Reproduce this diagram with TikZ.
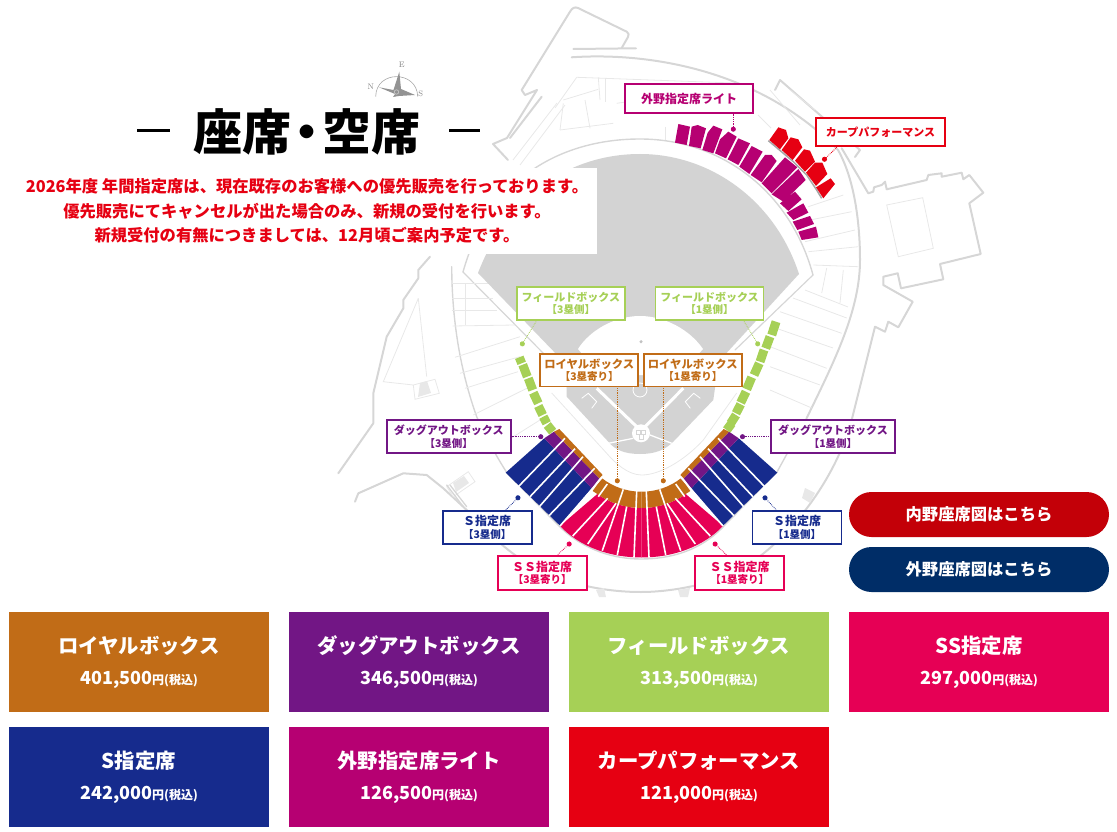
\documentclass[tikz,border=0pt]{standalone}
\usepackage{fontspec}
\usetikzlibrary{arrows.meta}
\newfontfamily\jpfont{Noto Sans CJK JP}
\newcommand\jpsize[2]{\jpfont\bfseries\fontsize{#1}{#2}\selectfont}

\definecolor{cRoyal}{HTML}{C16C17}
\definecolor{cDug}{HTML}{721685}
\definecolor{cField}{HTML}{A6D056}
\definecolor{cSS}{HTML}{E60055}
\definecolor{cS}{HTML}{162B8D}
\definecolor{cOut}{HTML}{B60072}
\definecolor{cCarp}{HTML}{E60012}
\definecolor{cBtnRed}{HTML}{C30008}
\definecolor{cBtnNavy}{HTML}{002D67}
\definecolor{mapThick}{HTML}{D6D6D6}
\definecolor{mapThin}{HTML}{E8E8E8}
\definecolor{mapField}{HTML}{D3D3D3}

\tikzset{
  mapline/.style={draw=mapThick, line width=2pt, line join=round, line cap=round},
  mapthin/.style={draw=mapThin, line width=0.8pt},
  seatgap/.style={draw=white, line width=1.6pt},
  seatlabel/.style={draw=#1, text=#1, fill=white, line width=1.8pt, inner sep=0pt, align=center,
    font=\jpsize{11}{12.2}},
  leader/.style={draw=#1, line width=0.8pt, densely dotted, {Circle[length=5pt,#1]}-},
  pricecard/.style={fill=#1, text=white, inner sep=0pt, minimum width=260pt, minimum height=100pt,
    align=center, font=\jpsize{20.4}{32}},
  bigbutton/.style={fill=#1, text=white, rounded corners=22.5pt, minimum width=260pt, minimum height=45pt,
    inner sep=0pt, font=\jpsize{16.3}{18}}
}
\newcommand\subtext[1]{{\fontsize{10.5}{12.2}\selectfont #1}}

\begin{document}
\begin{tikzpicture}[x=1pt, y=-1pt, line cap=butt]

  %% ════ ground outlines ════
  \draw[mapline] (521.7,90) -- (570,11.7) .. controls (572,8) and (575,6.5) .. (578,8) -- (626.7,31.7)
    .. controls (629,33) and (629,35) .. (628,37) -- (621.7,48);
  \draw[mapline] (573.3,49) -- (636,48.3);
  \draw[mapline] (521.7,90) -- (525,95) -- (537,90) -- (507,138) -- (493,144) -- (508,160);
  \draw[mapline] (541.7,96.7) -- (510,138);
  \draw[mapline] (571.7,57.3) .. controls (650,52) and (760,70) .. (838,150)
    .. controls (855,180) and (860,225) .. (860,260) .. controls (860,310) and (835,360) .. (806.7,418);
  \draw[mapline] (775,90) -- (780,80) -- (860,150) -- (855,157);
  \draw[mapline] (841.7,148.3) -- (868.3,193.3) -- (873.3,191.7) -- (874,187.3) -- (881.7,185) -- (885,181.7)
    -- (886.7,189.3) -- (926.7,180) -- (928.3,175) -- (941.7,173.3) -- (941.7,176.7) -- (961.7,172.7)
    -- (963.3,179.3) -- (969.3,175) -- (983.3,192.7) -- (969.3,203.3) -- (980.7,254) -- (940,264)
    -- (943.3,279.3) -- (901,288.3) -- (897.7,273.3) -- (883.3,276.7) -- (883.3,285) -- (912.7,301.7)
    -- (898.3,327.3) -- (888.3,321.7) -- (885,331.7) -- (875,326.7) -- (851.7,420)
    .. controls (835,480) and (790,540) .. (740,570) .. controls (710,585) and (670,592) .. (641,592)
    .. controls (600,592) and (560,582) .. (530,565) .. controls (505,550) and (485,530) .. (466.7,510)
    -- (443.3,488.3) -- (426.7,475) -- (403.3,473.3) -- (358.3,493.3) -- (355,501.7);
  \draw[mapline] (430,256.7) -- (418.3,270) -- (418.3,278.3) -- (403.3,300) -- (403.3,308.3) -- (386.7,336.7)
    -- (373.3,393.3) -- (373.3,423.3) -- (338.3,473.3);
  \draw[mapline, line width=1.4pt] (451.7,266.7) .. controls (452,320) and (460,370) .. (476.7,416.7)
    .. controls (487,440) and (497,457) .. (507,473) -- (560,527) .. controls (585,551) and (615,559) .. (641,559)
    .. controls (670,559) and (700,551) .. (723,527) -- (777,472) -- (806.7,418);
  \draw[mapline, line width=1.4pt] (463,272) .. controls (490,175) and (565,139) .. (640,139)
    .. controls (720,139) and (790,190) .. (813,275);
  \draw[mapline, line width=1.2pt] (463,272) -- (548,358);
  \draw[mapline, line width=1.2pt] (813,275) -- (735,350);

  %% ════ thin stand lines ════
  \foreach \xa/\ya/\xb/\yb in {451.7/283.3/496.7/283.3, 451.7/298.3/493/298.3, 451.7/310.7/497/310.7,
      452.7/326/515/325, 455/357.3/520/336.7, 460/373.3/520/356.7, 465/388.3/518/371.7,
      473.3/415/530/386.7, 497/447/540/420, 465/283.3/465/325, 793/298/846.7/318,
      780/311.7/841.7/333.3, 771.7/326.7/833/348, 770/346.7/826.7/368.3, 770/366.7/820/385,
      770/390/811.7/408, 808.3/206.7/843.3/195, 810/220/851.7/211.7, 805/241.7/855/230,
      808.3/251.7/858.3/246.7, 813.3/265/858.3/266.7, 826.7/268/821.7/293, 843.3/270/840/303,
      805/290/848/307, 576.7/77.3/733/83, 576.7/77.3/555/108, 557/103/513/160, 565/105/520/165,
      563.3/100/598.3/89.3, 598.3/77.3/600/100, 563.3/103.3/560/130, 585/100/590/128.3,
      560/130/613.3/123.3, 605/78/605/101.7, 616.7/103.3/663.3/96.7, 665/126.7/665/140,
      770/90/800/125, 790/90/815/110, 758/115/771/128}
    \draw[mapthin] (\xa,\ya) -- (\xb,\yb);
  \draw[mapthin] (886.7,205) -- (922.7,197.7) -- (933.3,248.3) -- (898.3,256.7) -- cycle;
  \draw[mapthin] (418.3,298.3) -- (383.3,381.7) -- (413.3,385) -- (435,379.3) -- (439.3,393.3) -- (415,399.3) -- (413.3,385);
  \draw[mapthin] (418.3,298.3) -- (426.7,376.7);
  \fill[mapThin] (420,383) -- (427,381) -- (431,393) -- (418,397) -- cycle;
  \draw[mapthin] (446.7,486.7) -- (468.3,471.7) -- (475,481.7) -- (453.3,496.7) -- cycle;
  \fill[mapThin] (453,483) -- (464,476) -- (469,483) -- (456,492) -- cycle;
  \draw[mapline, line width=1.3pt] (446.7,485) -- (463.3,506.7);
  \draw[mapline, line width=1.3pt] (450,485) -- (466.7,506.7);
  \fill[mapThin] (596,590) -- (604,588) -- (606,597) -- (599,597) -- cycle;
  \fill[mapThin] (678,590) -- (690,588) -- (688,597) -- (680,597) -- cycle;
  \fill[mapThin] (805,488) -- (815,493) -- (810,503) -- (802,498) -- cycle;
  \draw[mapthin] (551.7,393) -- (606.7,453.3) .. controls (615,463) and (628,475) .. (641.7,475)
    .. controls (660,475) and (685,460) .. (703.3,440) -- (736.7,393);

  %% ════ field ════
  \fill[mapField] (478,273) .. controls (510,190) and (575,154) .. (640,154)
    .. controls (710,154) and (775,200) .. (799,274) -- (722,358) -- (715,388) -- (713.3,400) -- (673.3,441.7)
    .. controls (665,450) and (655,454) .. (640,454) .. controls (625,454) and (615,450) .. (608.3,441.7)
    -- (566.7,396.7) -- (566.7,388) -- (560,358) -- cycle;
  \fill[white] (578,349) .. controls (590,330) and (615,316) .. (640,316)
    .. controls (665,316) and (690,330) .. (703,349) -- (680,375) -- (600,375) -- cycle;
  \fill[mapField!80!gray] (641,341.7) circle (1.7);
  \draw[white, line width=3pt] (596.7,388.3) -- (636.7,426.7);
  \draw[white, line width=3pt] (683.3,388.3) -- (645,426.7);
  \draw[white, line width=1.3pt] (633.3,438.3) -- (608.3,443.3);
  \draw[white, line width=1.3pt] (650,435) -- (671.7,443.3);
  \draw[white, line width=0.8pt] (640,390) circle (7);
  \draw[white, line width=0.8pt] (581.7,398.3) -- (588.3,393.3) -- (596.7,401.7) -- (591.7,408.3);
  \draw[white, line width=0.8pt] (700.3,398.3) -- (693.7,393.3) -- (685.3,401.7) -- (690.3,408.3);
  \fill[white] (641,433.3) circle (9);
  \draw[mapThick, line width=0.7pt] (636,430) rectangle (640,434) (641,430) rectangle (645,434) (639,434) rectangle (643,439);

  %% ════ outfield seats ════
  \begin{scope}[shift={(660,110)}, scale=1/3]
    \fill[cOut] (55,42) -- (90,50) -- (80,105) -- (45,98) -- cycle
      (95,50) -- (113,45) -- (138,55) -- (122,115) -- (87,108) -- cycle
      (143,68) -- (160,47) -- (187,58) -- (160,130) -- (127,120) -- cycle
      (180,88) -- (205,65) -- (230,80) -- (198,145) -- (165,130) -- cycle
      (235,85) -- (270,100) -- (235,165) -- (203,148) -- cycle
      (275,108) -- (308,125) -- (268,192) -- (238,170) -- cycle
      (315,135) -- (335,135) -- (350,153) -- (305,217) -- (272,195) -- cycle
      (375,142) -- (412,172) -- (335,250) -- (305,220) -- cycle
      (415,177) -- (437,210) -- (370,275) -- (335,253) -- cycle
      (405,245) -- (425,268) -- (385,303) -- (360,280) -- cycle
      (430,280) -- (445,308) -- (400,330) -- (380,308) -- cycle
      (450,318) -- (462,342) -- (412,360) -- (398,335) -- cycle
      (468,350) -- (475,382) -- (425,390) -- (415,365) -- cycle;
    \draw[gray!70, line width=1.5pt] (325,92) -- (400,155) -- (440,195) -- (470,240) -- (485,265);
    \fill[cCarp] (328,90) -- (355,52) -- (378,60) -- (385,85) -- (360,118) -- cycle
      (365,120) -- (392,82) -- (415,88) -- (427,112) -- (398,150) -- cycle
      (405,152) -- (432,118) -- (450,122) -- (465,155) -- (435,185) -- cycle
      (438,188) -- (465,158) -- (487,158) -- (502,192) -- (468,228) -- cycle
      (468,232) -- (512,205) -- (525,222) -- (490,265) -- cycle;
  \end{scope}

  %% ════ infield seats, left half then its mirror ════
  \foreach \side/\sh in {1/0, -1/1283} {
    \begin{scope}[shift={(\sh,0)}, xscale=\side]
      \fill[cS] (505.7,472.7) -- (544.3,438.3) -- (591.7,488.3) -- (560,525.7) -- cycle;
      \fill[cDug] (544.3,438.3) -- (554,431.7) -- (599.3,478.3) -- (591.7,488.3) -- cycle;
      \fill[cRoyal] (554,431.7) -- (559.3,429) -- (602.7,475) -- (599.3,478.3) -- cycle;
      \fill[cSS] (560,526) .. controls (580,547) and (610,557.5) .. (641.5,557.5) -- (641.5,508)
        .. controls (625,508) and (610,503) .. (597.3,494) -- cycle;
      \fill[cRoyal] (592.7,491) -- (601.7,478) .. controls (613,487) and (627,491.7) .. (641.5,491.7)
        -- (641.5,508) .. controls (625,508) and (610,503) .. (597.3,494) -- cycle;
      \foreach \xa/\ya/\xb/\yb in {518.3/486.7/565/438.3, 530/496.7/575/448.7, 539.3/506.7/583/456.7,
          549/515.7/594.7/468.3, 560/526/602.5/477, 572.7/536/607.7/498.3, 587.7/544/616/503.3,
          602.3/550.7/623.3/489.3, 617.3/555/626.7/506.7, 634/557.5/636.7/491, 598.3/496.7/607.3/484}
        \draw[seatgap] (\xa,\ya) -- (\xb,\yb);
    \end{scope}
  }
  \foreach \xa/\ya/\xb/\yb in {519.3/357.3/521.7/363.3, 522.7/364.7/527.3/376.7, 528.3/378.3/532.7/390,
      533.3/392.7/538.3/403.3, 538.3/406/542.7/415, 543.3/416.7/546.7/423.3, 547.3/425/552.7/431.7,
      776/321.7/771.7/335, 770/336.7/765.7/348.3, 764/350/760/361.7, 759.3/363.3/754/375,
      751.7/377.3/746.7/389.3, 746/391.7/740.7/402.7, 740.7/404.3/736/413.3, 736/415/730.7/423.3,
      731.7/423.3/726.7/430}
    \draw[cField, line width=9pt] (\xa,\ya) -- (\xb,\yb);

  %% ════ heading ════
  \fill[white] (20,168) rectangle (597,254);
  \node[inner sep=0pt, font=\jpsize{49}{50}] (heading) at (306.5,131.5) {座席\kern-9pt・\kern-9pt空席};
  \draw[line width=2.4pt] (137,130.7) -- (170,130.7);
  \draw[line width=2.4pt] (449,130.7) -- (480,130.7);
  \node[inner sep=0pt, text=cCarp, align=center, font=\jpsize{16.3}{24.2}] (notice) at (307,211) {2026年度 年間指定席は、現在既存のお客様への優先販売を行っております。\\優先販売にてキャンセルが出た場合のみ、新規の受付を行います。\\新規受付の有無につきましては、12月頃ご案内予定です。};

  %% ════ compass ════
  \draw[gray!70, line width=0.6pt] (375.7,96.5) .. controls (376,70) and (417,70) .. (417.7,96.5);
  \fill[gray!85] (399.3,71.7) -- (393.5,90) -- (379,87.3) -- (395,94) -- (393,97) -- (399,96) -- (415,95) -- (401,89) -- cycle;
  \draw[gray!40, line width=0.6pt] (396.5,92) circle (2.2);
  \foreach \cname/\cx/\cy/\ctxt in {cmpE/401.7/65/E, cmpN/370.7/86.7/N, cmpS/420.7/94/S}
    \node[text=gray, inner sep=0pt, font=\fontsize{8}{8}\selectfont] (\cname) at (\cx,\cy) {\ctxt};

  %% ════ labels ════
  \node[seatlabel=cOut, minimum width=128pt, minimum height=29pt, font=\jpsize{12}{13}] (outright) at (689,98.8) {外野指定席ライト};
  \node[seatlabel=cCarp, minimum width=129pt, minimum height=28pt] (carp) at (880.5,132) {カープパフォーマンス};
  \node[seatlabel=cField, minimum width=108pt, minimum height=33pt] (field3) at (570.8,303.3) {フィールドボックス\\\subtext{【3塁側】}};
  \node[seatlabel=cField, minimum width=108pt, minimum height=33pt] (field1) at (709.5,303.3) {フィールドボックス\\\subtext{【1塁側】}};
  \node[seatlabel=cRoyal, minimum width=98pt, minimum height=32.5pt, font=\jpsize{11.3}{12.2}] (royal3) at (589.2,370.3) {ロイヤルボックス\\\subtext{【3塁寄り】}};
  \node[seatlabel=cRoyal, minimum width=98pt, minimum height=32.5pt, font=\jpsize{11.3}{12.2}] (royal1) at (692.8,370.3) {ロイヤルボックス\\\subtext{【1塁寄り】}};
  \node[seatlabel=cDug, minimum width=124pt, minimum height=33pt] (dug3) at (448.7,436.7) {ダッグアウトボックス\\\subtext{【3塁側】}};
  \node[seatlabel=cDug, minimum width=124pt, minimum height=33pt] (dug1) at (833,436.7) {ダッグアウトボックス\\\subtext{【1塁側】}};
  \node[seatlabel=cS, minimum width=89pt, minimum height=33pt, font=\jpsize{12}{12.2}] (s3) at (487.2,527.3) {Ｓ指定席\\\subtext{【3塁側】}};
  \node[seatlabel=cS, minimum width=89pt, minimum height=33pt, font=\jpsize{12}{12.2}] (s1) at (797,527.3) {Ｓ指定席\\\subtext{【1塁側】}};
  \node[seatlabel=cSS, minimum width=89pt, minimum height=34pt, font=\jpsize{12}{12.2}] (ss3) at (542.2,573) {ＳＳ指定席\\\subtext{【3塁寄り】}};
  \node[seatlabel=cSS, minimum width=89pt, minimum height=34pt, font=\jpsize{12}{12.2}] (ss1) at (739.7,573) {ＳＳ指定席\\\subtext{【1塁寄り】}};

  %% ════ leaders ════
  \coordinate (outrightDot) at (733.3,131.7);
  \coordinate (carpDot) at (822.7,161);
  \coordinate (field3Dot) at (521,346);
  \coordinate (field1Dot) at (759,346);
  \coordinate (royal3Dot) at (617.3,483.3);
  \coordinate (royal1Dot) at (663.3,483.3);
  \coordinate (dug3Dot) at (543.3,436.7);
  \coordinate (dug1Dot) at (740,436.7);
  \coordinate (s3Dot) at (519.7,496);
  \coordinate (s1Dot) at (763.3,496);
  \coordinate (ss3Dot) at (571,542.3);
  \coordinate (ss1Dot) at (713.3,542.3);
  \draw[leader=cOut] (outrightDot) -- (outrightDot |- outright.south);
  \draw[leader=cCarp] (carpDot) -- (carp.199);
  \draw[leader=cField] (field3Dot) -- (field3.207);
  \draw[leader=cField] (field1Dot) -- (field1.333);
  \draw[leader=cRoyal] (royal3Dot) -- (royal3Dot |- royal3.south);
  \draw[leader=cRoyal] (royal1Dot) -- (royal1Dot |- royal1.south);
  \draw[leader=cDug] (dug3Dot) -- (dug3.east);
  \draw[leader=cDug] (dug1Dot) -- (dug1.west);
  \draw[leader=cS] (s3Dot) -- (s3.43);
  \draw[leader=cS] (s1Dot) -- (s1.140);
  \draw[leader=cSS] (ss3Dot) -- (ss3.50);
  \draw[leader=cSS] (ss1Dot) -- (ss1.126);

  %% ════ buttons and price cards ════
  \node[bigbutton=cBtnRed] (btnIn) at (979,514.5) {\raisebox{-1.2pt}{内野座席図はこちら}};
  \node[bigbutton=cBtnNavy] (btnOut) at (979,569.5) {\raisebox{-1.2pt}{外野座席図はこちら}};
  \foreach \cname/\cx/\cy/\ccol/\ctitle/\cprice in {
      cardRoyal/139/662/cRoyal/ロイヤルボックス/{401,500},
      cardDug/419/662/cDug/ダッグアウトボックス/{346,500},
      cardField/699/662/cField/フィールドボックス/{313,500},
      cardSS/979/662/cSS/SS指定席/{297,000},
      cardS/139/777/cS/S指定席/{242,000},
      cardOut/419/777/cOut/外野指定席ライト/{126,500},
      cardCarp/699/777/cCarp/カープパフォーマンス/{121,000}}
    \node[pricecard=\ccol] (\cname) at (\cx,\cy) {\raisebox{-1pt}{\ctitle}\\{\fontsize{18}{32}\selectfont \cprice}{\fontsize{12}{32}\selectfont 円(税込)}};

  \pgfresetboundingbox
  \path[use as bounding box] (0,0) rectangle (1117,832);
\end{tikzpicture}
\end{document}
